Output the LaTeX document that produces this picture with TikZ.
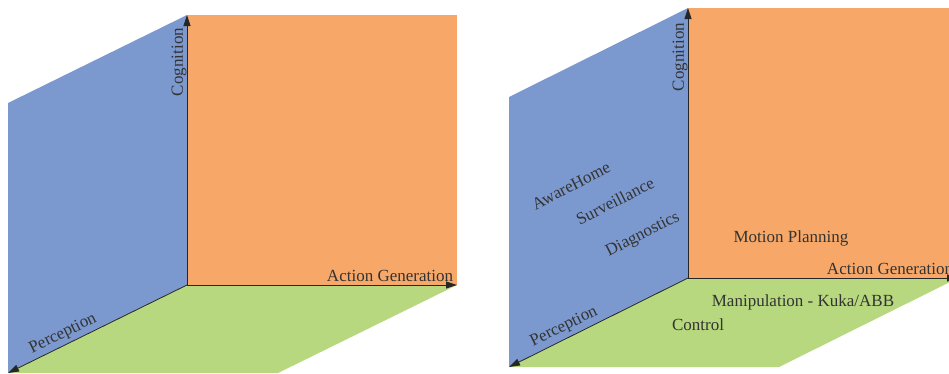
\documentclass[tikz,border=0pt]{standalone}
\usepackage{fontspec}
\setmainfont{Liberation Serif}
\usetikzlibrary{arrows.meta}

\definecolor{percblue}{RGB}{124,153,207}
\definecolor{actorange}{RGB}{247,168,104}
\definecolor{cogngreen}{RGB}{183,216,126}

\tikzset{
  axislabel/.style={inner sep=0pt,text=black!80,font=\fontsize{17}{20}\selectfont},
  axisline/.style={->,line width=0.8pt,draw=black!85},
}

\begin{document}
\begin{tikzpicture}[x=1pt,y=-1pt,>={Triangle[length=11pt,width=7pt]}]
    \useasboundingbox (0,0) rectangle (949,373);
    \clip (0,0) rectangle (949,373);
    % left cube
    \begin{scope}[shift={(187,285)}]
        \coordinate (O) at (0,0);
        \coordinate (C) at (0,-270);
        \coordinate (A) at (270,0);
        \coordinate (P) at (-179,88);
        % planes
        \fill[percblue] (O) -- (C) -- (-179,-182) -- (P) -- cycle;
        \fill[actorange] (O) -- (C) -- (270,-270) -- (A) -- cycle;
        \fill[cogngreen] (O) -- (A) -- (91,88) -- (P) -- cycle;
        % axes
        \draw[axisline] (O) -- (C);
        \draw[axisline] (O) -- (A);
        \draw[axisline] (O) -- (P);
        \node[axislabel,rotate=90] (cogL) at (-8,-223) {Cognition};
        \node[axislabel] (actL) at (203,-9) {Action Generation};
        \node[axislabel,rotate=26] (percL) at (-124,49) {Perception};
    \end{scope}
    % right cube
    \begin{scope}[shift={(688,278)}]
        \coordinate (O) at (0,0);
        \coordinate (C) at (0,-270);
        \coordinate (A) at (270,0);
        \coordinate (P) at (-179,89);
        % planes
        \fill[percblue] (O) -- (C) -- (-179,-181) -- (P) -- cycle;
        \fill[actorange] (O) -- (C) -- (270,-270) -- (A) -- cycle;
        \fill[cogngreen] (O) -- (A) -- (91,89) -- (P) -- cycle;
        % axes
        \draw[axisline] (O) -- (C);
        \draw[axisline] (O) -- (A);
        \draw[axisline] (O) -- (P);
        \node[axislabel,rotate=90] (cogR) at (-8,-221) {Cognition};
        \node[axislabel] (actR) at (202,-9) {Action Generation};
        \node[axislabel,rotate=26] (percR) at (-124,49) {Perception};
        % applications
        \node[axislabel,rotate=27] (aware) at (-117,-92) {AwareHome};
        \node[axislabel,rotate=27] (surv) at (-73,-77) {Surveillance};
        \node[axislabel,rotate=27] (diag) at (-45,-43) {Diagnostics};
        \node[axislabel] (motion) at (103,-40) {Motion Planning};
        \node[axislabel] (manip) at (115,24) {Manipulation - Kuka/ABB};
        \node[axislabel] (ctrl) at (10,47) {Control};
    \end{scope}
\end{tikzpicture}
\end{document}
